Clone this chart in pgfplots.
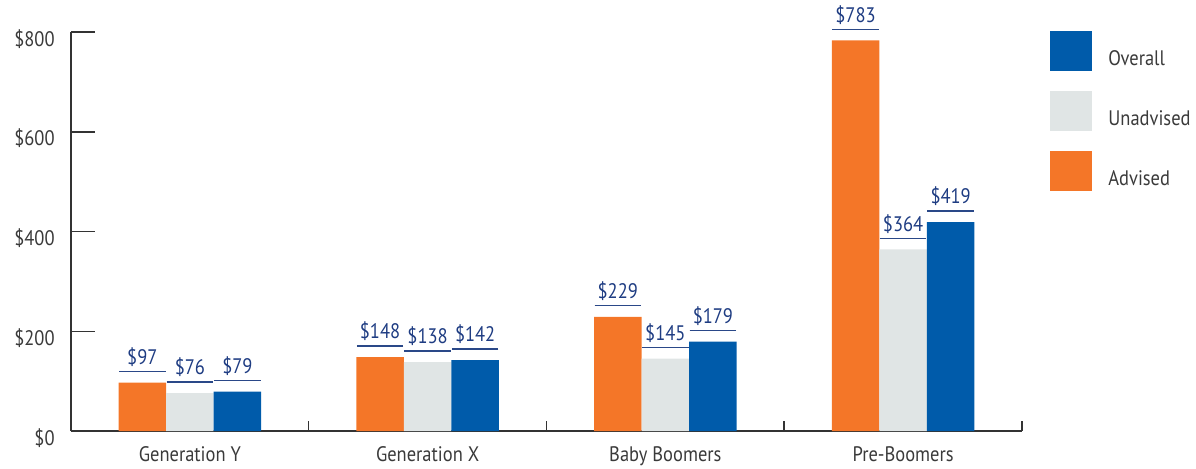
\documentclass[border=0pt]{standalone}
\usepackage{fontspec}
\setmainfont{PT Sans}[FakeStretch=0.88]
\usepackage{pgfplots}
\pgfplotsset{compat=1.18}
\definecolor{cOr}{HTML}{F47628}
\definecolor{cGr}{HTML}{E0E5E5}
\definecolor{cBl}{HTML}{005BAA}
\definecolor{cLab}{HTML}{1E3C82}
\definecolor{cLine}{HTML}{2A4888}
\definecolor{cAx}{HTML}{333333}
\definecolor{cTxt}{HTML}{3A3A3A}
\newcommand{\fs}{\fontsize{10.5}{12}\selectfont}
\pgfplotsset{myleg/.style={legend image code/.code={\fill[##1] (0pt,-6pt) rectangle (21pt,14pt);}}}
\begin{document}
\begin{tikzpicture}
\path[use as bounding box] (-35.5pt,-18.5pt) rectangle (562.5pt,215.5pt);
\begin{axis}[
  scale only axis, width=475.5pt, height=199.5pt,
  at={(0,0)}, anchor=south west,
  ybar=0pt, bar width=0.2,
  xmin=-0.5, xmax=3.5, ymin=0, ymax=800,
  enlargelimits=false,
  axis x line=bottom, axis y line=left,
  axis line style={-, draw=cAx, line width=0.75pt},
  every tick/.style={draw=cAx, line width=0.75pt},
  tick align=inside,
  major tick length=12pt, minor tick length=5pt,
  xtick={0,1,2,3},
  xticklabels={Generation Y, Generation X, Baby Boomers, Pre-Boomers},
  major x tick style={draw=none},
  minor xtick={0.5,1.5,2.5,3.5},
  ytick={0,200,400,600,800},
  /pgf/number format/assume math mode=true,
  yticklabel={\$\pgfmathprintnumber{\tick}},
  xticklabel style={font=\fs, text=cTxt, anchor=base, inner sep=0pt, yshift=-15.3pt},
  yticklabel style={font=\fs, text=cTxt, anchor=base east, inner sep=0pt, xshift=-8pt, yshift=-7pt},
  nodes near coords={\$\pgfmathprintnumber{\pgfplotspointmeta}},
  every node near coord/.append style={font=\fs, text=cLab, anchor=south,
    inner xsep=0pt, inner ysep=3.5pt, text depth=0pt, minimum width=22.8pt, yshift=5.5pt,
    append after command={(\tikzlastnode.south west) edge[draw=cLine, line width=0.7pt] (\tikzlastnode.south east)}},
  legend style={draw=none, fill=none, at={(1.0294,1.0025)}, anchor=north west,
    font=\fs, text=cTxt, row sep=10pt, inner sep=0pt, nodes={inner sep=0pt},
    /tikz/every odd column/.append style={column sep=8pt}},
  legend cell align=left,
  reverse legend,
]
\addplot[fill=cOr, draw=none, myleg] coordinates {(0,97) (1,148) (2,229) (3,783)};
\addplot[fill=cGr, draw=none, myleg] coordinates {(0,76) (1,138) (2,145) (3,364)};
\addplot[fill=cBl, draw=none, myleg] coordinates {(0,79) (1,142) (2,179) (3,419)};
\legend{Advised, Unadvised, Overall}
\end{axis}
\end{tikzpicture}
\end{document}
